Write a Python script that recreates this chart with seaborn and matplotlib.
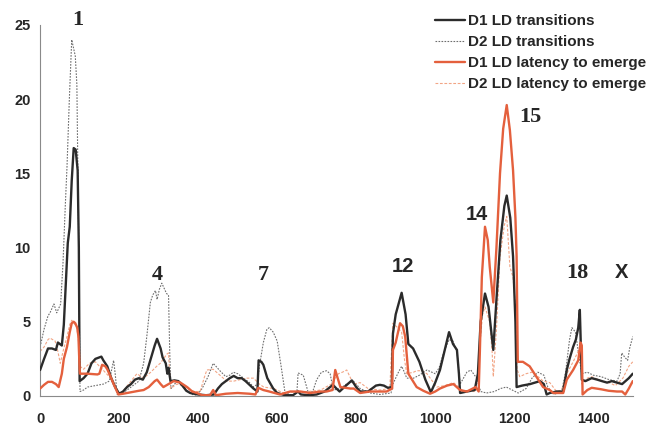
import matplotlib
matplotlib.use("Agg")
import matplotlib.pyplot as plt
import seaborn as sns
import pandas as pd

# ---- data ----
d1_tr_x = [0,10,20,30,40,45,50,55,60,65,70,75,80,85,90,95,98,100,110,120,130,140,150,155,160,170,180,190,200,210,220,230,240,250,260,270,280,290,296,305,310,318,322,325,330,340,350,360,370,380,400,420,440,450,460,470,480,490,500,510,520,530,540,550,553,560,565,575,590,600,620,640,653,660,680,700,720,741,750,758,770,789,800,810,830,850,860,870,880,890,893,900,915,925,932,944,960,975,989,1000,1012,1025,1035,1045,1055,1060,1063,1080,1100,1108,1115,1126,1135,1147,1155,1165,1175,1181,1190,1197,1203,1206,1220,1240,1265,1275,1282,1290,1307,1324,1333,1340,1349,1356,1362,1366,1371,1380,1396,1410,1422,1435,1447,1460,1473,1490,1500]
d1_tr_y = [1.75,2.5,3.2,3.2,3.1,3.6,3.5,3.4,4.8,7.5,10.3,11.4,14.5,16.7,16.6,15.2,10,1.0,1.2,1.5,2.2,2.5,2.6,2.65,2.4,2.0,1.2,0.6,0.15,0.3,0.6,0.8,1.1,1.2,1.1,1.6,2.5,3.4,3.85,3.2,2.6,2.2,1.5,1.9,1.0,1.05,1.0,0.7,0.35,0.2,0.1,0.05,0.1,0.5,0.8,1.0,1.2,1.35,1.2,1.2,1.0,0.75,0.5,0.3,2.4,2.3,2.1,1.2,0.5,0.2,0.05,0.05,0.3,0.1,0.05,0.1,0.3,0.75,0.5,0.3,0.6,1.05,0.6,0.3,0.3,0.7,0.75,0.7,0.55,0.6,4.2,5.5,6.95,5.5,3.5,3.2,2.3,1.1,0.25,0.9,1.75,3.2,4.3,3.5,3.1,1.5,0.2,0.3,0.4,1.5,5.0,6.9,6.0,3.1,6.5,10.5,12.8,13.5,12.0,9.4,5.0,0.6,0.7,0.8,1.0,0.8,0.1,0.2,0.3,0.3,1.75,2.5,3.3,3.8,4.6,5.8,1.1,1.0,1.2,1.1,1.0,0.9,1.0,0.9,0.8,1.2,1.5]

d2_tr_x = [0,10,20,25,35,42,47,52,58,64,68,74,80,85,89,93,97,101,110,120,140,160,175,186,190,195,210,230,250,262,270,279,285,292,296,302,308,315,320,325,328,331,340,350,360,370,385,397,410,425,438,445,455,470,480,489,500,515,530,540,550,555,565,574,580,590,600,610,620,640,650,653,666,679,690,700,712,725,734,742,760,775,793,810,835,860,888,893,905,915,922,928,945,960,979,1000,1010,1020,1035,1045,1055,1063,1080,1090,1105,1115,1130,1150,1165,1180,1195,1210,1230,1245,1260,1275,1285,1300,1320,1330,1340,1346,1355,1362,1371,1385,1400,1420,1440,1460,1468,1472,1480,1487,1492,1500]
d2_tr_y = [3.3,4.5,5.4,5.6,6.2,5.6,5.9,6.2,9,13,15.4,20,24,23.4,22.9,21,12,0.3,0.4,0.6,0.7,0.8,1.0,2.4,1.5,0.1,0.2,0.6,1.0,2.2,4.0,6.3,6.8,7.1,6.5,7.2,7.6,7.2,6.9,6.8,3,0.5,0.8,1.0,0.8,0.4,0.1,0.05,0.5,1.3,2.2,2.0,1.7,1.3,1.4,1.6,1.5,1.2,0.9,0.6,0.8,2.0,3.6,4.5,4.6,4.3,3.7,2.0,0.2,0.05,0.3,1.55,1.4,0.2,0.3,1.1,1.6,1.7,1.5,0.4,0.5,0.8,1.0,0.5,0.2,0.1,0.2,0.8,1.5,2.0,1.6,1.2,1.2,1.4,1.75,1.5,1.9,2.8,3.8,3.7,3.0,0.8,1.6,1.75,1.2,0.3,0.2,0.3,0.5,0.6,0.4,0.2,0.5,1.2,1.6,1.4,0.6,0.1,0.3,1.6,3.8,4.6,4.3,3.0,1.5,1.6,1.4,1.3,1.1,1.0,1.5,2.9,2.6,2.4,3.2,4.0]

d1_lat_x = [0,10,20,30,40,47,55,60,68,75,80,85,89,94,97,100,101,120,145,150,157,165,170,180,186,198,210,230,250,262,275,290,296,305,312,325,338,355,372,385,397,410,430,438,445,470,500,530,545,552,565,580,607,620,633,659,683,710,725,740,747,752,760,785,794,810,835,860,877,891,893,900,911,918,924,932,953,970,987,1000,1012,1030,1046,1063,1080,1095,1102,1110,1113,1118,1126,1133,1138,1147,1155,1164,1172,1181,1189,1197,1203,1206,1209,1222,1239,1256,1273,1290,1299,1324,1333,1349,1362,1368,1371,1373,1385,1396,1420,1439,1460,1473,1481,1490,1500]
d1_lat_y = [0.5,0.75,0.95,0.95,0.8,0.6,1.5,2.5,3.3,4.3,4.9,5.0,4.9,4.6,4.0,1.8,1.5,1.5,1.45,1.5,2.1,2.0,1.8,1.2,0.8,0.1,0.15,0.25,0.35,0.4,0.6,1.0,1.1,0.8,0.6,0.8,1.0,0.9,0.6,0.3,0.2,0.05,0.05,0.4,0.05,0.15,0.2,0.15,0.1,0.55,0.4,0.3,0.1,0.2,0.3,0.3,0.2,0.3,0.3,0.4,1.75,1.3,0.6,0.5,0.5,0.2,0.3,0.3,0.3,0.5,3.1,3.6,4.9,4.7,4.0,1.5,0.6,0.35,0.15,0.3,0.5,0.7,0.8,0.4,0.3,0.5,0.6,0.3,3.0,8.0,11.4,10.5,8.7,6.3,10.0,15.0,18.0,19.6,17.9,15.2,12,9.4,2.3,2.3,2.0,1.3,0.6,0.4,0.2,0.2,1.1,1.75,2.4,3.6,3.4,0.1,0.4,0.55,0.45,0.35,0.3,0.3,0.1,0.5,1.0]

d2_lat_x = [0,10,20,25,38,45,51,58,68,75,80,86,93,98,101,110,125,140,150,161,175,186,200,215,230,245,262,280,295,304,315,320,325,330,346,360,372,390,405,415,422,438,455,472,490,506,523,540,555,566,591,616,650,680,710,737,755,765,776,793,810,830,860,885,893,905,915,922,928,945,953,965,979,1004,1025,1046,1060,1071,1097,1110,1113,1120,1126,1138,1144,1147,1155,1164,1175,1181,1189,1197,1203,1207,1214,1230,1245,1265,1273,1290,1307,1320,1333,1349,1362,1368,1371,1385,1396,1422,1440,1456,1475,1490,1500]
d2_lat_y = [3.0,3.3,3.8,3.9,3.7,3.0,2.2,3.0,4.0,4.8,5.1,4.9,4.6,3.5,2.0,1.8,2.2,2.3,2.0,1.7,1.3,0.8,0.1,0.5,1.0,1.5,1.2,1.6,2.0,2.2,2.6,2.8,2.9,0.5,0.8,0.7,0.5,0.3,0.3,1.2,1.75,1.8,1.4,1.0,1.0,1.1,1.2,1.2,0.8,0.6,0.5,0.2,0.3,0.3,0.4,0.8,1.5,1.6,1.75,0.8,0.9,0.5,0.4,0.5,4.9,4.6,4.3,2.5,1.5,1.6,1.7,1.7,1.5,0.6,0.7,0.9,0.6,0.3,0.3,0.5,3.5,5.5,6.0,5.0,3.0,1.3,4.5,9.4,11.5,12.1,8.7,8.0,6.0,1.8,1.3,1.5,1.6,1.2,1.0,0.9,0.3,0.4,1.5,2.3,3.0,3.2,0.8,1.2,1.3,1.0,0.9,0.7,1.2,2.0,2.3]

labels = ["D1 LD transitions", "D2 LD transitions",
          "D1 LD latency to emerge", "D2 LD latency to emerge"]
x_ticks = [0, 200, 400, 600, 800, 1000, 1200, 1400]
y_ticks = [0, 5, 10, 15, 20, 25]
peak_labels = ["1", "4", "7", "12", "14", "15", "18", "X"]
peak_x = [96, 296, 565, 919, 1105, 1240, 1361, 1472]
peak_y = [25.3, 8.15, 8.15, 8.7, 12.2, 18.8, 8.3, 8.3]
peak_serif = [True, True, True, False, False, True, True, False]

# ---- plotting ----
sns.set_style("white")
plt.rcParams['font.family'] = ['Liberation Sans', 'DejaVu Sans']

fig = plt.figure(figsize=(6.47, 4.29), dpi=100)
ax = fig.add_axes([0.062, 0.077, 0.916, 0.865])

c_black = "#2b2b2b"
c_grey = "#6e6e6e"
c_orange = "#e4603d"
c_lorange = "#f2a585"

sns.lineplot(x=d2_tr_x, y=d2_tr_y, ax=ax, sort=False, color=c_grey, lw=0.8,
             label=labels[1], zorder=2).lines[-1].set_dashes((1.5, 1.2))
sns.lineplot(x=d2_lat_x, y=d2_lat_y, ax=ax, sort=False, color=c_lorange, lw=0.8,
             label=labels[3], zorder=2).lines[-1].set_dashes((2.5, 1.5))
sns.lineplot(x=d1_tr_x, y=d1_tr_y, ax=ax, sort=False, color=c_black, lw=1.7,
             label=labels[0], zorder=3)
sns.lineplot(x=d1_lat_x, y=d1_lat_y, ax=ax, sort=False, color=c_orange, lw=1.7,
             label=labels[2], zorder=4)

ax.set_xlim(0, 1500)
ax.set_ylim(0, 25)
ax.set_xticks(x_ticks)
ax.set_yticks(y_ticks)
ax.set_xlabel("")
ax.set_ylabel("")
for s in ["top", "right"]:
    ax.spines[s].set_visible(False)
for s in ["left", "bottom"]:
    ax.spines[s].set_color("#8a8a8a")
    ax.spines[s].set_linewidth(0.8)
ax.tick_params(axis="both", direction="out", length=3, width=0.6, color="#8a8a8a",
               labelsize=10.5, pad=4)
for t in ax.get_xticklabels() + ax.get_yticklabels():
    t.set_fontweight("bold")
ax.tick_params(axis="x", pad=8.5)

for lab, px, py, serif in zip(peak_labels, peak_x, peak_y, peak_serif):
    ax.text(px, py, lab, ha="center", va="center", fontweight="bold",
            fontsize=16 if serif else 14.5,
            family=["Liberation Serif"] if serif else ["Liberation Sans"],
            clip_on=False)

handles, _ = ax.get_legend_handles_labels()
hmap = {h.get_label(): h for h in handles}
leg = ax.legend([hmap[l] for l in labels], labels, loc="upper right",
                bbox_to_anchor=(0.998, 0.967), bbox_transform=fig.transFigure,
                frameon=False, borderpad=0, borderaxespad=0, handlelength=1.95,
                handletextpad=0.15, labelspacing=0.46,
                prop={"weight": "bold", "size": 11})

fig.savefig("out.png", dpi=100)
